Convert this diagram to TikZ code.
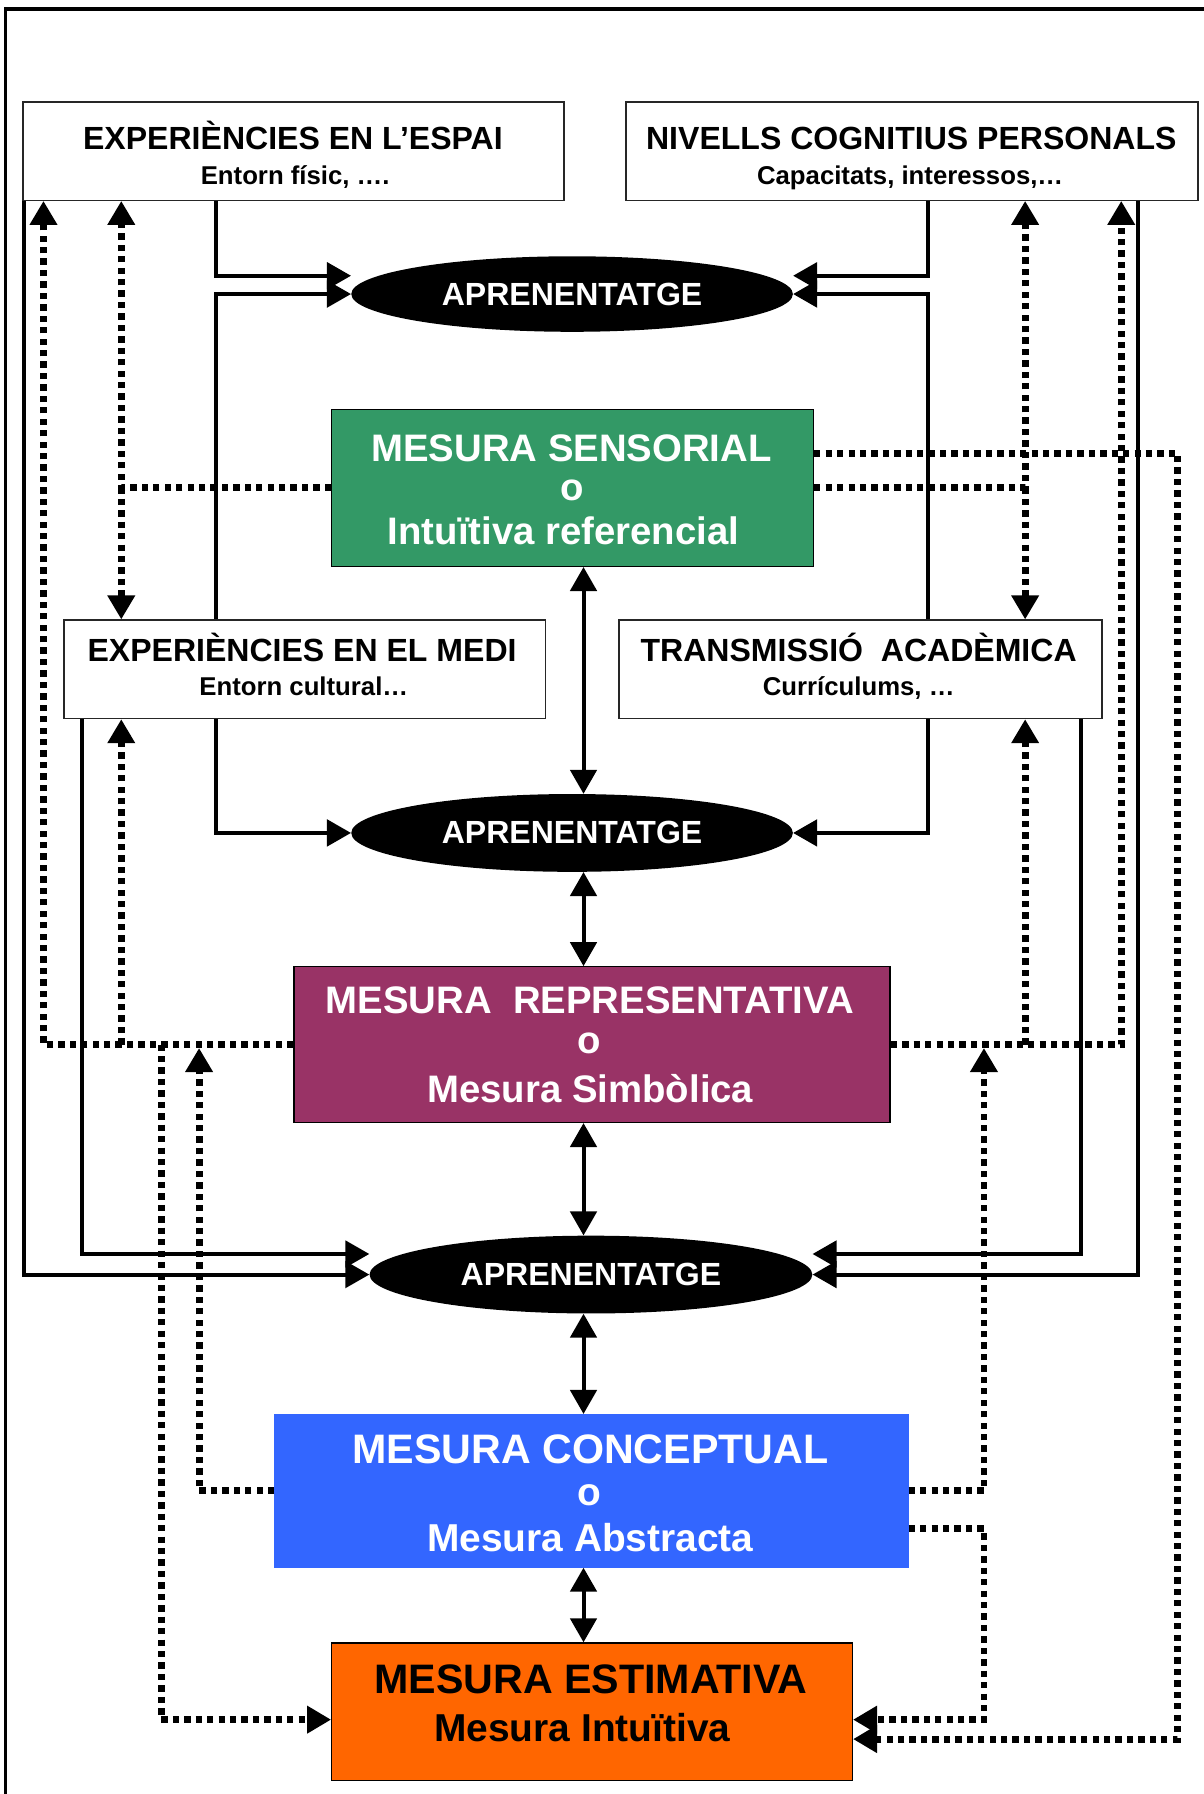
\documentclass[tikz,border=0pt]{standalone}
\usepackage{fontspec}
\setmainfont{Liberation Sans}
\usetikzlibrary{arrows.meta,calc,shapes.geometric}
\definecolor{cgreen}{RGB}{51,153,102}
\definecolor{cmaroon}{RGB}{153,51,102}
\definecolor{cblue}{RGB}{51,102,255}
\definecolor{corange}{RGB}{255,102,0}
\tikzset{
  frameline/.style={line width=3pt},
  plainbox/.style={draw=black!85, line width=1.2pt, fill=white, inner sep=0pt},
  colbox/.style={draw=black, line width=1.2pt, inner sep=0pt},
  oval/.style={ellipse, fill=black, inner sep=0pt, text=white,
               font=\fontsize{28}{30}\selectfont\bfseries},
  sl/.style={line width=3.5pt, -{Triangle[length=21pt,width=23pt]}},
  dl/.style={line width=3.5pt, {Triangle[length=21pt,width=23pt]}-{Triangle[length=21pt,width=23pt]}},
  dt/.style={line width=6pt, dash pattern=on 5.5pt off 4.5pt},
  dta/.style={dt, -{Triangle[length=21pt,width=23pt]}},
  ttl/.style={font=\fontsize{28}{30}\selectfont\bfseries, anchor=base, inner sep=0pt},
  subt/.style={font=\fontsize{22.5}{24}\selectfont\bfseries, anchor=base, inner sep=0pt},
  bigw/.style={font=\fontsize{33.5}{35}\selectfont\bfseries, anchor=base, inner sep=0pt, text=white},
  bigb/.style={font=\fontsize{34}{36}\selectfont\bfseries, anchor=base, inner sep=0pt, text=black},
}
\begin{document}
\begin{tikzpicture}[x=1pt,y=-1pt]
\useasboundingbox[fill=white] (0,0) rectangle (1052,1568);
% frame
\draw[frameline] (5,1568) -- (5,8) -- (1052,8);

% helper columns and rows
\coordinate (cA) at (21,0);
\coordinate (cB) at (38,0);
\coordinate (cC) at (72,0);
\coordinate (cD) at (106,0);
\coordinate (cE) at (141,0);
\coordinate (cF) at (174,0);
\coordinate (cG) at (189,0);
\coordinate (cX) at (510,0);
\coordinate (cH) at (811,0);
\coordinate (cI) at (860,0);
\coordinate (cJ) at (896,0);
\coordinate (cK) at (945,0);
\coordinate (cL) at (980,0);
\coordinate (cM) at (995,0);
\coordinate (cN) at (1029,0);
\coordinate (r241) at (0,241);
\coordinate (r396) at (0,396);
\coordinate (r426) at (0,426);
\coordinate (r915) at (0,916);
\coordinate (r1096) at (0,1096);
\coordinate (r1336) at (0,1336);
\coordinate (r1503) at (0,1503);
\coordinate (r1520) at (0,1520);

% boxes
\node[plainbox, minimum width=473pt, minimum height=86pt] (b1) at (256.5,132) {};
\node[ttl] (b1t) at (256,131) {EXPERIÈNCIES EN L’ESPAI};
\node[subt] (b1s) at (258,161) {Entorn físic, ….};

\node[plainbox, minimum width=500pt, minimum height=86pt] (b2) at (797,132) {};
\node[ttl] (b2t) at (796.5,131) {NIVELLS COGNITIUS PERSONALS};
\node[subt] (b2s) at (795.5,161) {Capacitats, interessos,…};

\node[oval, minimum width=386pt, minimum height=66pt] (e1) at (500,257) {APRENENTATGE};

\node[colbox, fill=cgreen, minimum width=421pt, minimum height=137pt] (g) at (500.5,426.5) {};
\node[bigw] (g1) at (499.5,403) {MESURA SENSORIAL};
\node[bigw] (g2) at (500,437.5) {o};
\node[bigw] (g3) at (492.5,476) {Intuïtiva referencial};

\node[plainbox, minimum width=421pt, minimum height=86pt] (b3) at (266.5,585) {};
\node[ttl] (b3t) at (264,578) {EXPERIÈNCIES EN EL MEDI};
\node[subt] (b3s) at (265.5,608) {Entorn cultural…};

\node[plainbox, minimum width=422pt, minimum height=86pt] (b4) at (752,585) {};
\node[ttl] (b4t) at (750.5,578) {TRANSMISSIÓ\ \ ACADÈMICA};
\node[subt] (b4s) at (750.5,608) {Currículums, …};

\node[oval, minimum width=386pt, minimum height=68pt] (e2) at (500,728) {APRENENTATGE};

\node[colbox, fill=cmaroon, minimum width=521pt, minimum height=136pt] (m) at (517.5,913) {};
\node[bigw] (m1) at (515.5,886) {MESURA\ \ REPRESENTATIVA};
\node[bigw] (m2) at (515,921) {o};
\node[bigw] (m3) at (516,964) {Mesura Simbòlica};

\node[oval, minimum width=387pt, minimum height=68pt] (e3) at (516.5,1114) {APRENENTATGE};

\node[draw=cblue, fill=cblue, inner sep=0pt, minimum width=554pt, minimum height=134pt] (bl) at (517,1303) {};
\node[bigw, font=\fontsize{36}{38}\selectfont\bfseries] (bl1) at (516,1279) {MESURA CONCEPTUAL};
\node[bigw, font=\fontsize{34}{36}\selectfont\bfseries] (bl2) at (515,1316) {o};
\node[bigw, font=\fontsize{34}{36}\selectfont\bfseries] (bl3) at (516,1356) {Mesura Abstracta};

\node[colbox, fill=corange, minimum width=455pt, minimum height=120pt] (o) at (517.5,1496) {};
\node[bigb, font=\fontsize{36}{38}\selectfont\bfseries] (o1) at (516.5,1480) {MESURA ESTIMATIVA};
\node[bigb] (o2) at (509,1522) {Mesura Intuïtiva};

% solid connectors into APRENENTATGE ellipses
\draw[sl] (b1.south -| cG) |- (e1.west |- r241);
\draw[sl] (b3.north -| cG) |- (e1.west);
\draw[sl] (b2.south -| cH) |- (e1.east |- r241);
\draw[sl] (b4.north -| cH) |- (e1.east);
\draw[sl] (b3.south -| cG) |- (e2.west);
\draw[sl] (b4.south -| cH) |- (e2.east);
\draw[sl] (b1.south -| cA) |- (e3.west);
\draw[sl] (b3.south -| cC) |- (e3.west |- r1096);
\draw[sl] (b2.south -| cM) |- (e3.east);
\draw[sl] (b4.south -| cK) |- (e3.east |- r1096);

% vertical double arrows
\draw[dl] (g.south -| cX) -- (e2.north -| cX);
\draw[dl] (e2.south -| cX) -- (m.north -| cX);
\draw[dl] (m.south -| cX) -- (e3.north -| cX);
\draw[dl] (e3.south -| cX) -- (bl.north -| cX);
\draw[dl] (bl.south -| cX) -- (o.north -| cX);

% dotted connectors from MESURA SENSORIAL
\draw[dta] (g.west |- r426) -| (b1.south -| cD);
\draw[dta] (cD |- r426) -- (b3.north -| cD);
\draw[dta] (g.east |- r426) -| (b2.south -| cJ);
\draw[dta] (cJ |- r426) -- (b4.north -| cJ);
\draw[dta] (g.east |- r396) -| (cN |- r1520) -- (o.east |- r1520);

% dotted connectors from MESURA REPRESENTATIVA
\draw[dta] (m.west) -| (b1.south -| cB);
\draw[dta] (cD |- m.west) -- (b3.south -| cD);
\draw[dta] (cE |- m.west) |- (o.west |- r1503);
\draw[dta] (m.east) -| (b2.south -| cL);
\draw[dta] (cJ |- m.east) -- (b4.south -| cJ);

% dotted connectors from MESURA CONCEPTUAL
\draw[dta] (bl.west) -| (cF |- r915);
\draw[dta] (bl.east) -| (cI |- r915);
\draw[dta] (bl.east |- r1336) -| (cI |- r1503) -- (o.east |- r1503);
\end{tikzpicture}
\end{document}
